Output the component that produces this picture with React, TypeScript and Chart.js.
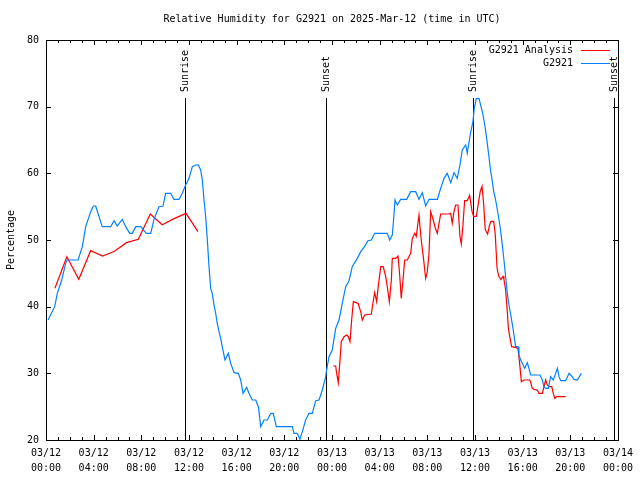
import React, { useEffect, useRef } from "react";
import { Chart, registerables } from "chart.js";

Chart.register(...registerables);

const TITLE = "Relative Humidity for G2921 on 2025-Mar-12 (time in UTC)";
const Y_TITLE = "Percentage";
const FONT = "'DejaVu Sans Mono', 'Liberation Mono', monospace";

// hours since 03/12 00:00 UTC
const xTickHours = [0, 4, 8, 12, 16, 20, 24, 28, 32, 36, 40, 44, 48];
const xTickDates = ["03/12", "03/12", "03/12", "03/12", "03/12", "03/12", "03/13", "03/13", "03/13", "03/13", "03/13", "03/13", "03/14"];
const xTickTimes = ["00:00", "04:00", "08:00", "12:00", "16:00", "20:00", "00:00", "04:00", "08:00", "12:00", "16:00", "20:00", "00:00"];
const yTicks = [20, 30, 40, 50, 60, 70, 80];

const sunLabels = ["Sunrise", "Sunset", "Sunrise", "Sunset"];
const sunHours = [11.67, 23.5, 35.83, 47.67];

const blueLabel = "G2921";
const blueT = [
  0.17, 0.73, 0.95, 1.32, 1.65, 1.79, 2.69, 3.05, 3.33, 3.75, 3.97, 4.17, 4.45, 4.72, 5.43, 5.71, 5.98, 6.4, 6.69, 7.02,
  7.24, 7.53, 7.95, 8.14, 8.42, 8.79, 9.06, 9.48, 9.82, 10.04, 10.46, 10.74, 11.16, 11.44, 11.72, 12.0, 12.28, 12.56, 12.78, 12.98,
  13.12, 13.26, 13.4, 13.54, 13.68, 13.82, 13.95, 14.1, 14.24, 14.37, 14.52, 14.66, 14.79, 15.02, 15.3, 15.5, 15.78, 16.14, 16.34, 16.53,
  16.84, 17.03, 17.31, 17.6, 17.82, 18.02, 18.29, 18.57, 18.86, 19.07, 19.33, 20.67, 20.81, 21.09, 21.31, 21.51, 21.79, 22.07, 22.35, 22.63,
  22.91, 23.19, 23.47, 23.55, 23.75, 24.02, 24.31, 24.59, 24.86, 25.15, 25.43, 25.7, 26.12, 26.41, 26.68, 27.02, 27.3, 27.58, 28.64, 28.84,
  29.06, 29.2, 29.29, 29.48, 29.76, 30.27, 30.6, 31.02, 31.3, 31.58, 31.86, 32.14, 32.84, 33.12, 33.4, 33.67, 33.96, 34.24, 34.51, 34.74,
  34.93, 35.22, 35.35, 35.6, 35.83, 35.94, 36.11, 36.34, 36.5, 36.67, 36.86, 37.01, 37.15, 37.28, 37.43, 37.57, 37.7, 37.85, 37.99, 38.12,
  38.26, 38.41, 38.54, 38.71, 38.85, 39.05, 39.21, 39.41, 39.61, 39.69, 39.83, 39.97, 40.17, 40.39, 40.53, 40.67, 41.45, 41.65, 41.79, 41.93,
  42.15, 42.35, 42.57, 42.77, 42.91, 43.05, 43.19, 43.61, 43.89, 44.03, 44.31, 44.58, 44.73, 44.92,
];
const blueV = [
  38.0, 40, 42, 44, 46.5, 47, 47, 49, 52, 54.25, 55.1, 55.1, 53.5, 52, 52, 52.9, 52.1, 53.1, 52, 51,
  51, 52, 52, 51.6, 51, 51, 53.1, 55, 55.1, 57, 57, 56.1, 56.1, 57, 58.25, 59.25, 61, 61.25, 61.25, 60.5,
  59, 56, 53.5, 50, 46, 42.75, 42, 40.25, 39, 37.5, 36.25, 35.25, 34, 32, 33, 31.5, 30.1, 30, 29, 27,
  27.9, 27, 26, 26, 25, 22, 23, 23, 24, 24, 22, 22, 21, 21, 20.1, 21.25, 23, 24, 24, 25.9,
  26, 27.5, 29.5, 30.5, 32.5, 33.5, 36.75, 38, 40.5, 43, 43.9, 46, 47.25, 48.25, 48.9, 49.9, 50, 51, 51, 50,
  50.75, 53.75, 56, 55.25, 56.1, 56.1, 57.25, 57.25, 56.1, 57.1, 55.1, 56.1, 56.1, 57.75, 59.25, 60, 58.6, 60.1, 59.25, 61.25,
  63.5, 64.25, 63, 65.8, 67.8, 69.8, 71.2, 71.2, 70.05, 68.8, 66.8, 64.8, 62.8, 60.8, 59.05, 57.3, 56.3, 54.8, 53.3, 51.8,
  49.8, 47.3, 45.05, 42, 40.25, 38.25, 36.5, 34, 34, 32.75, 32, 31.5, 30.75, 31.6, 30.75, 29.75, 29.75, 29, 28, 27.75,
  27.75, 29.5, 29, 30, 30.75, 29.5, 28.9, 28.9, 30, 29.75, 29.1, 29, 29.4, 30,
];

const redLabel = "G2921 Analysis";
const redT = [
  0.75, 1.75, 2.75, 3.75, 4.75, 5.75, 6.75, 7.75, 8.75, 9.75, 10.75, 11.75, 12.75, 18.0,
  24.11, 24.31, 24.39, 24.53, 24.65, 24.78, 25.01, 25.23, 25.37, 25.51, 25.65, 25.79, 26.18, 26.41, 26.54, 26.74, 27.3, 27.41, 27.58, 27.75,
  27.86, 28.09, 28.3, 28.51, 28.64, 28.81, 28.98, 29.06, 29.34, 29.54, 29.68, 29.81, 29.96, 30.1, 30.32, 30.6, 30.74, 30.94, 31.07, 31.3,
  31.38, 31.49, 31.66, 31.86, 32.0, 32.14, 32.28, 32.5, 32.67, 32.84, 32.98, 33.12, 33.82, 33.96, 34.09, 34.24, 34.38, 34.57, 34.74, 34.85,
  34.99, 35.13, 35.35, 35.55, 35.75, 35.89, 36.11, 36.31, 36.44, 36.59, 36.73, 36.86, 37.06, 37.23, 37.34, 37.57, 37.7, 37.85, 37.99, 38.18,
  38.35, 38.43, 38.57, 38.71, 38.8, 38.94, 39.08, 39.41, 39.61, 39.75, 39.89, 40.11, 40.61, 40.81, 40.95, 41.23, 41.37, 41.65, 41.79, 41.93,
  42.07, 42.21, 42.44, 42.57, 42.7, 42.86, 43.61,
];
const redV = [
  42.75, 47.5, 44.1, 48.4, 47.6, 48.3, 49.6, 50.1, 53.9, 52.3, 53.2, 54.0, 51.25, null,
  31.1, 31.1, 30, 28.6, 31.5, 34.75, 35.5, 35.75, 35.5, 34.75, 38, 40.75, 40.5, 39.25, 38, 38.75, 38.9, 40.25, 42.1, 40.75,
  42.75, 46, 46, 44.5, 43, 40.75, 44, 47.25, 47.25, 47.6, 44.75, 41.25, 44, 47, 47, 48, 50.25, 51, 50.5, 53.75,
  52, 50, 47.5, 44.25, 45.25, 48, 54.25, 53, 51.75, 51, 52.5, 53.9, 53.9, 54, 52.5, 54.25, 55.25, 55.25, 50.5, 49.4,
  52.25, 55.9, 55.9, 56.7, 54.3, 53.55, 53.55, 55.8, 57.3, 58.05, 55.3, 51.55, 50.9, 52.3, 52.8, 52.8, 50.8, 45.8, 44.55, 44.05,
  44.55, 44.1, 42.5, 39.25, 36.75, 35.25, 34, 33.9, 33.75, 31.4, 28.75, 29, 29, 27.75, 27.6, 27.5, 27, 27, 28, 29,
  28.25, 28, 28, 27, 26.25, 26.5, 26.5,
];

const RED = "#ff0000";
const BLUE = "#0080ff";

const gnuplotPlugin = {
  id: "gnuplotDecor",
  beforeDatasetsDraw(chart: any) {
    const { ctx, chartArea, scales } = chart;
    const x = scales.x;
    ctx.save();
    ctx.strokeStyle = "#000";
    ctx.lineWidth = 1;
    sunHours.forEach((h, i) => {
      const px = Math.round(x.getPixelForValue(h)) + 0.5;
      ctx.beginPath();
      ctx.moveTo(px, chartArea.top + 58);
      ctx.lineTo(px, chartArea.bottom);
      ctx.stroke();
      ctx.save();
      ctx.translate(px, chartArea.top + 52);
      ctx.rotate(-Math.PI / 2);
      ctx.fillStyle = "#000";
      ctx.font = "10px " + FONT;
      ctx.textAlign = "left";
      ctx.textBaseline = "middle";
      ctx.fillText(sunLabels[i], 0, 0);
      ctx.restore();
    });
    ctx.restore();
  },
  afterDraw(chart: any) {
    const { ctx, chartArea, scales } = chart;
    const { left, right, top, bottom } = chartArea;
    const x = scales.x;
    const y = scales.y;
    ctx.save();
    ctx.strokeStyle = "#000";
    ctx.lineWidth = 1;
    // border box
    ctx.strokeRect(Math.round(left) + 0.5, Math.round(top) + 0.5, Math.round(right - left), Math.round(bottom - top));
    ctx.beginPath();
    // x ticks: major every 4h, minor every hour, mirrored at top
    for (let h = 0; h <= 48; h++) {
      const px = Math.round(x.getPixelForValue(h)) + 0.5;
      const len = xTickHours.includes(h) ? 5 : 3;
      ctx.moveTo(px, bottom);
      ctx.lineTo(px, bottom - len);
      ctx.moveTo(px, top);
      ctx.lineTo(px, top + len);
    }
    yTicks.forEach((v) => {
      const py = Math.round(y.getPixelForValue(v)) + 0.5;
      ctx.moveTo(left, py);
      ctx.lineTo(left + 5, py);
      ctx.moveTo(right, py);
      ctx.lineTo(right - 5, py);
    });
    ctx.stroke();

    ctx.fillStyle = "#000";
    ctx.font = "10px " + FONT;
    // title
    ctx.textAlign = "center";
    ctx.textBaseline = "middle";
    ctx.fillText(TITLE, (left + right) / 2, 19);
    // y title
    ctx.save();
    ctx.translate(11, (top + bottom) / 2);
    ctx.rotate(-Math.PI / 2);
    ctx.fillText(Y_TITLE, 0, 0);
    ctx.restore();

    // legend (gnuplot style: text right-aligned, sample line on right)
    const entries = [chart.data.datasets[1], chart.data.datasets[0]];
    entries.forEach((ds: any, i: number) => {
      const ly = top + 10 + i * 13;
      ctx.textAlign = "right";
      ctx.fillStyle = "#000";
      ctx.fillText(ds.label, right - 45, ly);
      ctx.strokeStyle = ds.borderColor;
      ctx.beginPath();
      ctx.moveTo(right - 37, Math.round(ly) + 0.5);
      ctx.lineTo(right - 8, Math.round(ly) + 0.5);
      ctx.stroke();
    });
    ctx.restore();
  },
};

export default function App() {
  const ref = useRef<HTMLCanvasElement>(null);

  useEffect(() => {
    if (!ref.current) return;
    const toPts = (t: number[], v: (number | null)[]) => t.map((tt, i) => ({ x: tt, y: v[i] }));
    const chart = new Chart(ref.current, {
      type: "line",
      data: {
        datasets: [
          {
            label: blueLabel,
            data: toPts(blueT, blueV),
            borderColor: BLUE,
            backgroundColor: BLUE,
            borderWidth: 1.2,
            pointRadius: 0,
            tension: 0,
          },
          {
            label: redLabel,
            data: toPts(redT, redV),
            borderColor: RED,
            backgroundColor: RED,
            borderWidth: 1.2,
            pointRadius: 0,
            tension: 0,
            spanGaps: false,
          },
        ],
      },
      options: {
        animation: false,
        responsive: false,
        maintainAspectRatio: false,
        layout: { padding: { top: 40, right: 22, left: 0, bottom: 0 } },
        plugins: { legend: { display: false }, title: { display: false }, tooltip: { enabled: false } },
        scales: {
          x: {
            type: "linear",
            min: 0,
            max: 48,
            afterBuildTicks: (s: any) => {
              s.ticks = xTickHours.map((h) => ({ value: h }));
            },
            afterFit: (s: any) => {
              s.height = 40;
            },
            ticks: {
              autoSkip: false,
              maxRotation: 0,
              minRotation: 0,
              padding: 6,
              color: "#000",
              font: { family: FONT, size: 10, lineHeight: 1.5 },
              callback: (val: any) => {
                const i = xTickHours.indexOf(Number(val));
                return i >= 0 ? [xTickDates[i], xTickTimes[i]] : "";
              },
            },
            grid: { display: false, drawTicks: false },
            border: { display: false },
          },
          y: {
            min: 20,
            max: 80,
            afterBuildTicks: (s: any) => {
              s.ticks = yTicks.map((v) => ({ value: v }));
            },
            afterFit: (s: any) => {
              s.width = 46;
            },
            ticks: {
              padding: 7,
              color: "#000",
              font: { family: FONT, size: 10 },
            },
            grid: { display: false, drawTicks: false },
            border: { display: false },
          },
        },
      },
      plugins: [gnuplotPlugin],
    });
    return () => chart.destroy();
  }, []);

  return (
    <div style={{ position: "absolute", left: 0, top: 0, width: 640, height: 480, background: "#fff" }}>
      <canvas ref={ref} width={640} height={480} style={{ display: "block" }} />
    </div>
  );
}
